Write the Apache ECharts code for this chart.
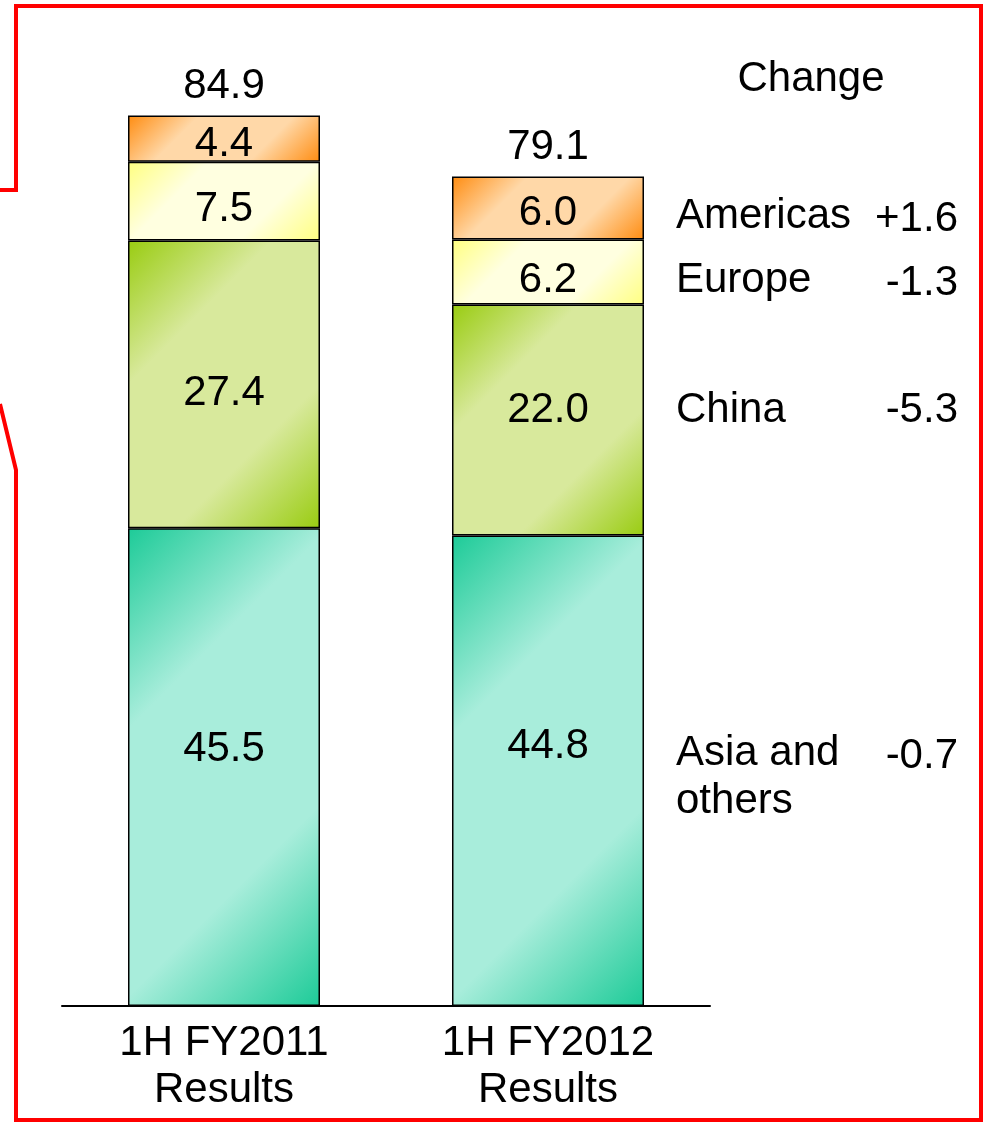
<!DOCTYPE html>
<html>
<head>
<meta charset="utf-8">
<script src="https://cdn.jsdelivr.net/npm/echarts@6/dist/echarts.min.js"></script>
<style>
  html, body { margin: 0; padding: 0; background: #fff; }
  #main { width: 988px; height: 1124px; }
</style>
</head>
<body>
<div id="main"></div>
<script>
// data
var categories = ['1H FY2011\nResults', '1H FY2012\nResults'];
var asiaOthers = [45.5, 44.8];
var china = [27.4, 22.0];
var europe = [7.5, 6.2];
var americas = [4.4, 6.0];
var totals = [84.9, 79.1];
var regionNames = ['Americas', 'Europe', 'China', 'Asia and\nothers'];
var changes = ['+1.6', '-1.3', '-5.3', '-0.7'];

var FONT = '"Liberation Sans", Arial, sans-serif';
var BAR_W = 192;
var PX_PER_UNIT = 945 / 90; // grid height / y max

var dom = document.getElementById('main');
var myChart = echarts.init(dom, null, { renderer: 'canvas' });

// 45 degree gradient in pixels, corner to corner
function diag(value, dark, light) {
  var w = BAR_W, h = value * PX_PER_UNIT;
  return new echarts.graphic.LinearGradient(0, 0, (w + h) / (2 * w), (w + h) / (2 * h), [
    { offset: 0, color: dark },
    { offset: 0.3, color: light },
    { offset: 0.7, color: light },
    { offset: 1, color: dark }
  ]);
}

// labelShift: small vertical nudge of the in-bar numbers, per bar
function segment(name, values, dark, light, labelShift) {
  return {
    name: name,
    type: 'bar',
    stack: 'total',
    barWidth: BAR_W,
    data: values.map(function (v, i) {
      return {
        value: v,
        itemStyle: { color: diag(v, dark, light) },
        label: { offset: [0, labelShift[i]] }
      };
    }),
    itemStyle: {
      borderColor: '#000',
      borderWidth: 1.5
    },
    label: {
      show: true,
      position: 'inside',
      color: '#000',
      fontSize: 42,
      fontFamily: FONT,
      formatter: function (p) { return p.value.toFixed(1); }
    }
  };
}

function text(str, x, y, align) {
  return {
    type: 'text',
    style: {
      text: str, x: x, y: y, lineHeight: 48,
      textAlign: align, textVerticalAlign: 'middle',
      font: '42px ' + FONT, fill: '#000'
    }
  };
}

var option = {
  animation: false,
  backgroundColor: '#fff',
  grid: { left: 62, right: 278, top: 61, bottom: 118 },
  xAxis: {
    type: 'category',
    data: categories,
    axisLine: { lineStyle: { color: '#000', width: 2 } },
    axisTick: { show: false },
    axisLabel: {
      color: '#000',
      fontSize: 42,
      fontFamily: FONT,
      lineHeight: 47,
      margin: 14
    }
  },
  yAxis: {
    type: 'value',
    min: 0,
    max: 90,
    show: false
  },
  series: [
    segment('Asia and others', asiaOthers, '#1DCB98', '#A8EDDB', [-18, -24]),
    segment('China', china, '#99CC11', '#D8E99C', [9, -10]),
    segment('Europe', europe, '#FFFF80', '#FFFFE0', [8, 8]),
    segment('Americas', americas, '#FF8C10', '#FFD8A8', [6, 5]),
    {
      name: 'Total',
      type: 'scatter',
      symbolSize: 0,
      data: totals,
      itemStyle: { opacity: 1 },
      label: {
        show: true,
        position: 'top',
        distance: 7,
        color: '#000',
        opacity: 1,
        fontSize: 42,
        fontFamily: FONT,
        formatter: function (p) { return p.value.toFixed(1); }
      }
    }
  ],
  graphic: [
    {
      type: 'polyline',
      shape: { points: [[0, 190], [16, 190], [16, 6], [981, 6], [981, 1120], [16, 1120], [16, 470], [0, 404]] },
      style: { stroke: '#ff0000', lineWidth: 4, fill: null }
    },
    text('Change', 811, 79, 'center'),
    text(regionNames[0], 676, 216, 'left'),
    text(changes[0], 958, 219, 'right'),
    text(regionNames[1], 676, 280, 'left'),
    text(changes[1], 958, 283, 'right'),
    text(regionNames[2], 676, 410, 'left'),
    text(changes[2], 958, 410, 'right'),
    text(regionNames[3], 676, 777, 'left'),
    text(changes[3], 958, 756, 'right')
  ]
};

myChart.setOption(option);
window.addEventListener('resize', myChart.resize);
</script>
</body>
</html>
